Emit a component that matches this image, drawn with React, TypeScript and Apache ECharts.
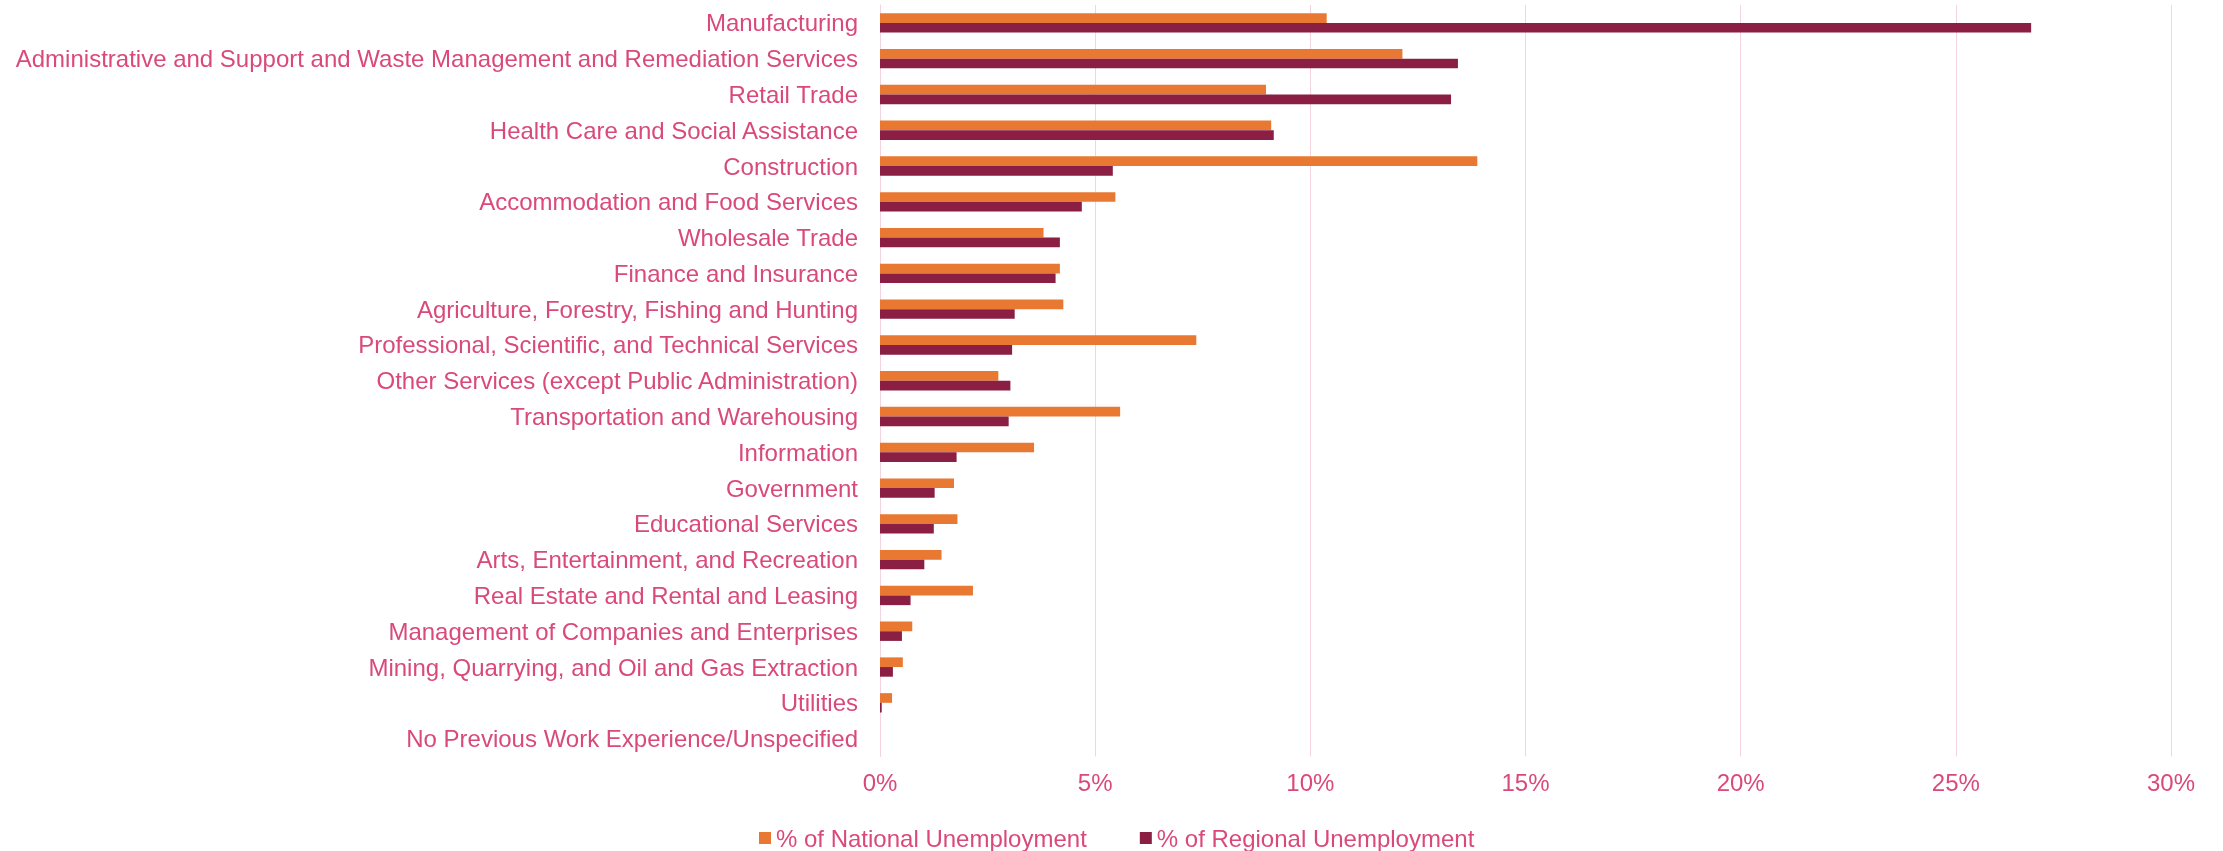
import React, { useEffect, useRef } from "react";
import * as echarts from "echarts";

const categories = [
  "Manufacturing",
  "Administrative and Support and Waste Management and Remediation Services",
  "Retail Trade",
  "Health Care and Social Assistance",
  "Construction",
  "Accommodation and Food Services",
  "Wholesale Trade",
  "Finance and Insurance",
  "Agriculture, Forestry, Fishing and Hunting",
  "Professional, Scientific, and Technical Services",
  "Other Services (except Public Administration)",
  "Transportation and Warehousing",
  "Information",
  "Government",
  "Educational Services",
  "Arts, Entertainment, and Recreation",
  "Real Estate and Rental and Leasing",
  "Management of Companies and Enterprises",
  "Mining, Quarrying, and Oil and Gas Extraction",
  "Utilities",
  "No Previous Work Experience/Unspecified",
];

const nationalShare = [
  10.38, 12.14, 8.97, 9.09, 13.88, 5.47, 3.8, 4.18, 4.26, 7.35, 2.75, 5.58, 3.58, 1.72,
  1.8, 1.43, 2.16, 0.75, 0.53, 0.28, 0,
];

const regionalShare = [
  26.75, 13.43, 13.27, 9.15, 5.41, 4.69, 4.18, 4.08, 3.13, 3.07, 3.03, 2.99, 1.78, 1.27,
  1.25, 1.03, 0.71, 0.51, 0.3, 0.04, 0,
];

const seriesNames = ["% of National Unemployment", "% of Regional Unemployment"];

const TEXT = "#D9497A";
const GRID = "#F5D3E2";
const FONT = "'Liberation Sans', Arial, sans-serif";
const FS = 24;

export default function App() {
  const ref = useRef<HTMLDivElement>(null);

  useEffect(() => {
    if (!ref.current) return;
    const chart = echarts.init(ref.current, null, { renderer: "svg" });
    chart.setOption({
      animation: false,
      textStyle: { fontFamily: FONT },
      grid: { left: 880, right: 52, top: 5, bottom: 94.5, containLabel: false },
      legend: {
        left: 754,
        top: 821,
        itemWidth: 12,
        itemHeight: 12,
        itemGap: 53,
        icon: "rect",
        textStyle: { color: TEXT, fontSize: FS, fontFamily: FONT },
        data: seriesNames,
      },
      xAxis: {
        type: "value",
        min: 0,
        max: 30,
        interval: 5,
        axisLine: { show: false },
        axisTick: { show: false },
        splitLine: { show: true, lineStyle: { color: GRID, width: 1 } },
        axisLabel: {
          color: TEXT,
          fontSize: FS,
          fontFamily: FONT,
          margin: 14,
          formatter: (v: number) => `${v}%`,
        },
      },
      yAxis: {
        type: "category",
        inverse: true,
        data: categories,
        axisLine: { show: true, lineStyle: { color: GRID, width: 1 } },
        axisTick: { show: false },
        axisLabel: { color: TEXT, fontSize: FS, fontFamily: FONT, margin: 22 },
      },
      series: [
        {
          name: seriesNames[0],
          type: "bar",
          data: nationalShare,
          itemStyle: { color: "#E87832" },
          barGap: "0%",
          barCategoryGap: "46%",
        },
        {
          name: seriesNames[1],
          type: "bar",
          data: regionalShare,
          itemStyle: { color: "#8A1F43" },
          barGap: "0%",
          barCategoryGap: "46%",
        },
      ],
    });
    return () => chart.dispose();
  }, []);

  return (
    <div
      ref={ref}
      style={{ position: "fixed", left: 0, top: 0, width: 2223, height: 851 }}
    />
  );
}
